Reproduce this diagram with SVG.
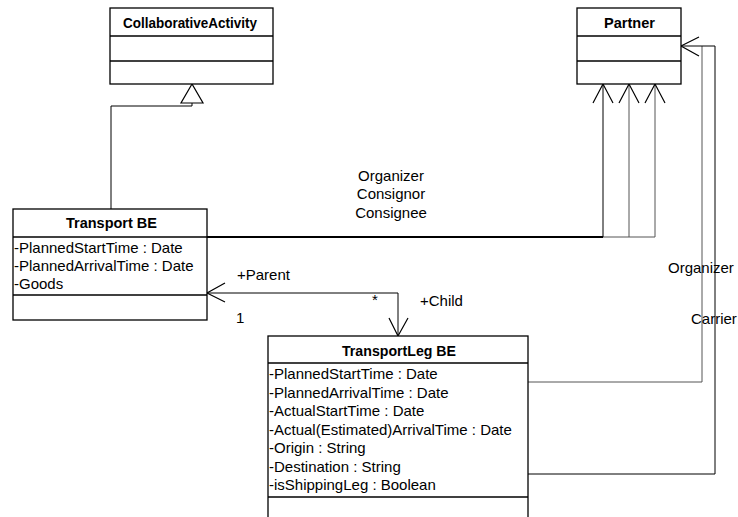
<svg xmlns="http://www.w3.org/2000/svg" width="738" height="517" viewBox="0 0 738 517">
<style>
.box{fill:#fff;stroke:#000;stroke-width:1.3}
.sep{stroke:#000;stroke-width:1.3}
.title{font-family:"Liberation Sans",Arial,sans-serif;font-size:15px;font-weight:bold;text-anchor:middle;fill:#000}
.attr{font-family:"Liberation Sans",Arial,sans-serif;font-size:15px;fill:#000}
.lbl{font-family:"Liberation Sans",Arial,sans-serif;font-size:15px;fill:#000}
.line{fill:none;stroke:#000;stroke-width:1}
.gray{stroke:#555}
.head{fill:none;stroke:#000;stroke-width:1.2}
.tri{fill:#fff;stroke:#000;stroke-width:1.2}
</style>
<rect width="738" height="517" fill="#fff"/>
<g id="connectors">
  <polyline class="line" points="111,209 111,106 192,106 192,103"/>
  <polygon class="tri" points="192,84 181,103 203,103"/>
  <line class="line" x1="207" y1="237" x2="603" y2="237" style="stroke-width:2"/>
  <line class="line gray" x1="603" y1="237" x2="655" y2="237"/>
  <line class="line" x1="603" y1="237" x2="603" y2="84"/>
  <line class="line gray" x1="629" y1="237" x2="629" y2="84"/>
  <line class="line gray" x1="655" y1="237" x2="655" y2="84"/>
  <polyline class="head" points="593,103 603,84 613,103"/>
  <polyline class="head" points="619,103 629,84 639,103"/>
  <polyline class="head" points="645,103 655,84 665,103"/>
  <polyline class="line gray" points="528,382 702,382 702,46"/>
  <polyline class="line" points="528,474 715,474 715,46 681,46"/>
  <polyline class="head" points="699,37 681,46 699,56"/>
  <polyline class="line" points="207,293 398,293 398,336"/>
  <polyline class="head" points="225,283 207,293 225,302"/>
  <polyline class="head" points="389,318 398,336 408,318"/>
  <text class="lbl" x="391" y="180.5" text-anchor="middle">Organizer</text>
  <text class="lbl" x="391" y="199" text-anchor="middle">Consignor</text>
  <text class="lbl" x="391" y="217.5" text-anchor="middle">Consignee</text>
  <text class="lbl" x="237" y="280">+Parent</text>
  <text class="lbl" x="236" y="323">1</text>
  <text class="lbl" x="372" y="305">*</text>
  <text class="lbl" x="420" y="306">+Child</text>
  <text class="lbl" x="668" y="273">Organizer</text>
  <text class="lbl" x="691" y="324">Carrier</text>
</g>
<g id="CollaborativeActivity">
  <rect class="box" x="110" y="8" width="163" height="76"/>
  <line class="sep" x1="110" y1="36" x2="273" y2="36"/>
  <line class="sep" x1="110" y1="61" x2="273" y2="61"/>
  <text class="title" x="190" y="28" textLength="134" lengthAdjust="spacingAndGlyphs">CollaborativeActivity</text>
</g>
<g id="Partner">
  <rect class="box" x="577" y="8" width="104" height="76"/>
  <line class="sep" x1="577" y1="36" x2="681" y2="36"/>
  <line class="sep" x1="577" y1="61" x2="681" y2="61"/>
  <text class="title" x="629.5" y="28" textLength="51" lengthAdjust="spacingAndGlyphs">Partner</text>
</g>
<g id="TransportBE">
  <rect class="box" x="13" y="209" width="194" height="111"/>
  <line class="sep" x1="13" y1="237" x2="207" y2="237"/>
  <line class="sep" x1="13" y1="295" x2="207" y2="295"/>
  <text class="title" x="111.5" y="228" textLength="91" lengthAdjust="spacingAndGlyphs">Transport BE</text>
  <text class="attr" x="14" y="253">-PlannedStartTime : Date</text>
  <text class="attr" x="14" y="271">-PlannedArrivalTime : Date</text>
  <text class="attr" x="14" y="289">-Goods</text>
</g>
<g id="TransportLegBE">
  <rect class="box" x="268" y="336" width="260" height="200"/>
  <line class="sep" x1="268" y1="363" x2="528" y2="363"/>
  <line class="sep" x1="268" y1="497" x2="528" y2="497"/>
  <text class="title" x="399" y="356" textLength="114" lengthAdjust="spacingAndGlyphs">TransportLeg BE</text>
  <text class="attr" x="269" y="379">-PlannedStartTime : Date</text>
  <text class="attr" x="269" y="397.5">-PlannedArrivalTime : Date</text>
  <text class="attr" x="269" y="416">-ActualStartTime : Date</text>
  <text class="attr" x="269" y="434.5">-Actual(Estimated)ArrivalTime : Date</text>
  <text class="attr" x="269" y="453">-Origin : String</text>
  <text class="attr" x="269" y="471.5">-Destination : String</text>
  <text class="attr" x="269" y="490">-isShippingLeg : Boolean</text>
</g>
</svg>
